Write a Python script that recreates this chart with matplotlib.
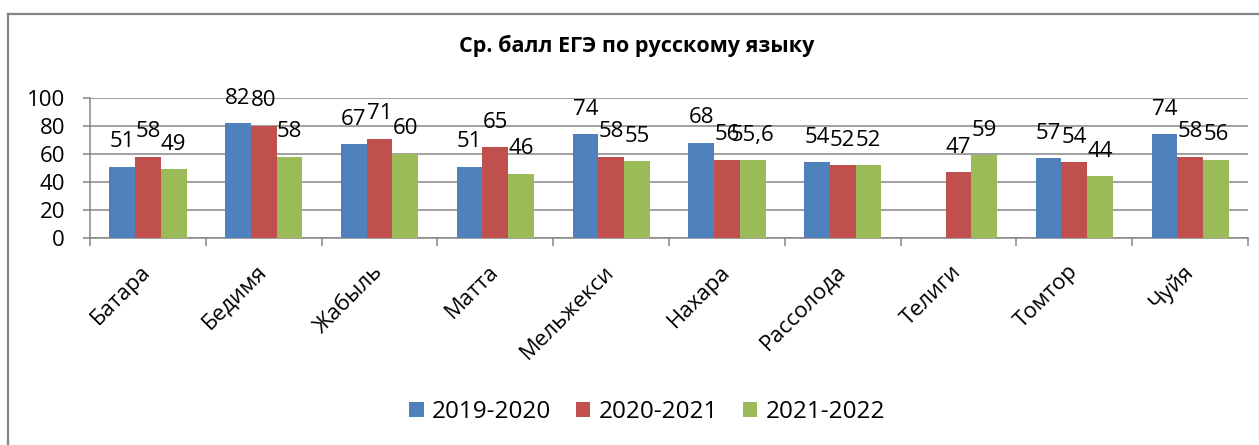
import numpy as np
import matplotlib
matplotlib.use('Agg')
import matplotlib.pyplot as plt
from matplotlib.lines import Line2D
from matplotlib.ticker import FixedLocator

plt.rcParams['font.family'] = ['Open Sans', 'DejaVu Sans']

# данные: средний балл по школам за три учебных года
schools = ['Батара', 'Бедимя', 'Жабыль', 'Матта', 'Мельжекси',
           'Нахара', 'Рассолода', 'Телиги', 'Томтор', 'Чуйя']
years = ['2019-2020', '2020-2021', '2021-2022']
y2019 = [51, 82, 67, 51, 74, 68, 54, np.nan, 57, 74]
y2020 = [58, 80, 71, 65, 58, 56, 52, 47, 54, 58]
y2021 = [49, 58, 60, 46, 55, 55.6, 52, 59, 44, 56]
y_ticks = [0, 20, 40, 60, 80, 100]

colors = ['#4F81BD', '#C0504D', '#9BBB59']
gray = '#868686'


def fmt(v):
    # целые без дробной части, дробные через запятую
    if float(v).is_integer():
        return str(int(v))
    return str(v).replace('.', ',')


W, H = 1259, 445
fig = plt.figure(figsize=(W / 100, H / 100), dpi=100, facecolor='white')

# рамка диаграммы (видны только верхний и левый края)
fig.add_artist(Line2D([8 / W, 1.0], [1 - 14 / H, 1 - 14 / H], color=gray, lw=1.6,
                      transform=fig.transFigure))
fig.add_artist(Line2D([8 / W, 8 / W], [1 - 14 / H, 0.0], color=gray, lw=1.6,
                      transform=fig.transFigure))

ax = fig.add_axes([90 / W, 1 - 238 / H, (1248 - 90) / W, (238 - 98) / H])

x = np.arange(len(schools))
bw = 1 / 4.5
for i, (vals, c, lab) in enumerate(zip([y2019, y2020, y2021], colors, years)):
    pos = x + (i - 1) * bw
    ax.bar(pos, vals, width=bw, color=c, label=lab, zorder=3)
    for px, v in zip(pos, vals):
        if np.isnan(v):
            continue
        ax.annotate(fmt(v), (px, v), xytext=(0, 18), textcoords='offset points',
                    ha='center', va='center', fontsize=16, zorder=4)

ax.set_xlim(-0.5, len(schools) - 0.5)
ax.set_ylim(0, 100)
ax.set_yticks(y_ticks)
ax.grid(axis='y', color=gray, lw=1.1, zorder=0)

for s in ['top', 'right']:
    ax.spines[s].set_visible(False)
for s in ['left', 'bottom']:
    ax.spines[s].set_color(gray)
    ax.spines[s].set_linewidth(1.1)

ax.tick_params(axis='y', length=5, width=1.1, color=gray, labelsize=16, pad=13)
ax.set_xticks(x)
ax.set_xticklabels(schools, rotation=45, ha='right', va='center',
                   rotation_mode='anchor', fontsize=16)
ax.tick_params(axis='x', which='major', length=0, pad=22)
ax.xaxis.set_minor_locator(FixedLocator(np.arange(-0.5, len(schools), 1)))
ax.tick_params(axis='x', which='minor', length=6, width=1.1, color=gray)

fig.text(0.506, 1 - 46 / H, 'Ср. балл ЕГЭ по русскому языку', ha='center', va='center',
         fontsize=15.5, fontweight='bold')

fig.legend(loc='center', bbox_to_anchor=(0.514, 1 - 412 / H), ncol=3, frameon=False,
           fontsize=17.5, handlelength=0.6, handleheight=0.6, handletextpad=0.35,
           columnspacing=1.0)

fig.savefig('out.png', dpi=100)
